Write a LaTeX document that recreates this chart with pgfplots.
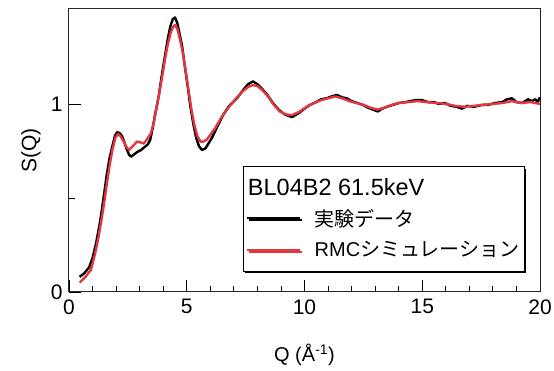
\documentclass[border=0pt]{standalone}
\usepackage{fontspec}
\setmainfont{Liberation Sans}
\newfontfamily\jp{Noto Sans CJK JP}
\usepackage{pgfplots}
\pgfplotsset{compat=1.18}
\usetikzlibrary{shadows}
\definecolor{rmcred}{RGB}{225,55,65}
\begin{document}
\begin{tikzpicture}
\useasboundingbox (-69pt,-79pt) rectangle (485pt,292pt);
\begin{axis}[
  scale only axis,
  width=471pt, height=283pt,
  xmin=0, xmax=20, ymin=0, ymax=1.505,
  xtick={0,5,10,15,20},
  minor x tick num=4,
  ytick={0,1},
  minor ytick={0.5},
  tick pos=left,
  tick align=inside,
  major tick length=12pt,
  minor tick length=6pt,
  every tick/.style={line width=0.9pt, black},
  axis line style={line width=1pt, black!85},
  /pgf/number format/assume math mode=true,
  ticklabel style={font=\fontsize{21}{23}\selectfont},
  xticklabel style={yshift=-4pt},
  yticklabel style={xshift=-3pt},
  xlabel={Q (Å\textsuperscript{-1})},
  ylabel={S(Q)},
  every axis x label/.style={at={(axis description cs:0.5,-0.223)},anchor=center,font=\fontsize{20}{22}\selectfont},
  every axis y label/.style={at={(axis description cs:-0.081,0.5)},anchor=center,rotate=90,font=\fontsize{21}{22}\selectfont},
  legend cell align=left,
  legend style={at={(0.968,0.071)}, anchor=south east, draw=black, line width=1pt,
    fill=white, font=\fontsize{20}{24}\selectfont,
    drop shadow={shadow xshift=2pt, shadow yshift=-2pt, fill=black, opacity=1},
    inner xsep=3pt, inner ysep=11pt, row sep=10pt,
    /tikz/every odd column/.append style={column sep=11pt}},
  legend image code/.code={\draw[#1] (0pt,0pt) -- (53pt,0pt);},
]
\addlegendimage{legend image code/.code={\node[overlay,anchor=west,inner sep=0pt,transform shape=false] at (0pt,0pt) {\fontsize{23.5}{26}\selectfont BL04B2 61.5keV};}}
\addlegendentry{\phantom{X}}
\addplot[black, line width=2.4pt, line join=round] coordinates {
(0.45,0.08) (0.65,0.10) (0.85,0.13) (1.0,0.18) (1.15,0.26) (1.3,0.36) (1.40,0.44)
(1.5,0.53) (1.61,0.63) (1.72,0.71) (1.83,0.77) (1.95,0.83) (2.04,0.85) (2.15,0.845)
(2.25,0.83) (2.34,0.80) (2.45,0.76) (2.55,0.73) (2.63,0.72) (2.75,0.73) (2.9,0.745)
(3.06,0.755) (3.2,0.77) (3.35,0.785) (3.45,0.81) (3.55,0.87) (3.65,0.94) (3.74,0.995)
(3.82,1.05) (3.95,1.16) (4.08,1.26) (4.2,1.35) (4.3,1.41) (4.40,1.45) (4.50,1.46)
(4.6,1.43) (4.70,1.37) (4.80,1.31) (4.92,1.20) (5.05,1.085) (5.15,0.99) (5.27,0.90)
(5.4,0.82) (5.52,0.775) (5.65,0.755) (5.8,0.765) (5.95,0.795) (6.07,0.82) (6.3,0.88)
(6.54,0.94) (6.8,0.99) (7.13,1.03) (7.4,1.075) (7.6,1.105) (7.81,1.12) (8.0,1.105)
(8.2,1.08) (8.41,1.05) (8.66,1.005) (8.9,0.97) (9.15,0.945) (9.47,0.93) (9.8,0.955)
(10.0,0.975) (10.23,0.995) (10.5,1.01) (10.7,1.025) (10.94,1.03) (11.15,1.04) (11.38,1.048)
(11.6,1.035) (11.8,1.03) (12.0,1.015) (12.25,1.005) (12.48,0.995) (12.7,0.98) (12.9,0.97)
(13.12,0.96) (13.3,0.975) (13.5,0.985) (13.76,0.995) (14.0,1.005) (14.3,1.01) (14.69,1.02)
(15.0,1.02) (15.24,1.01) (15.5,1.01) (15.7,1.0) (15.97,1.005) (16.2,0.99) (16.45,0.985)
(16.69,0.975) (16.9,0.99) (17.2,0.985) (17.54,0.995) (17.8,0.995) (18.09,1.005) (18.4,1.01)
(18.6,1.025) (18.81,1.03) (19.0,1.01) (19.24,1.005) (19.5,1.025) (19.65,1.015) (19.8,1.025)
(19.9,1.01) (20.0,1.035)
};
\addlegendentry{{\jp 実験データ}}
\addplot[rmcred, line width=2.4pt, line join=round] coordinates {
(0.45,0.05) (0.7,0.08) (0.93,0.117) (1.1,0.2) (1.25,0.29) (1.4,0.40) (1.5,0.48)
(1.6,0.57) (1.72,0.67) (1.85,0.76) (1.97,0.82) (2.08,0.84) (2.18,0.83) (2.3,0.805)
(2.42,0.775) (2.55,0.755) (2.7,0.775) (2.89,0.80) (3.05,0.795) (3.18,0.79) (3.3,0.81)
(3.48,0.845) (3.6,0.90) (3.7,0.97) (3.82,1.05) (3.95,1.14) (4.08,1.24) (4.2,1.32)
(4.32,1.38) (4.42,1.41) (4.5,1.42) (4.6,1.40) (4.7,1.35) (4.82,1.28) (4.95,1.18)
(5.08,1.07) (5.2,0.97) (5.32,0.89) (5.45,0.83) (5.58,0.80) (5.7,0.80) (5.85,0.81)
(6.0,0.835) (6.2,0.87) (6.5,0.935) (6.8,0.985) (7.1,1.03) (7.4,1.07) (7.6,1.09)
(7.8,1.10) (8.0,1.095) (8.2,1.075) (8.45,1.04) (8.7,0.995) (8.95,0.96) (9.2,0.945)
(9.47,0.94) (9.8,0.96) (10.1,0.985) (10.4,1.005) (10.7,1.02) (11.0,1.03) (11.3,1.04)
(11.6,1.03) (11.9,1.015) (12.2,1.005) (12.5,0.995) (12.8,0.98) (13.1,0.97) (13.4,0.98)
(13.7,0.995) (14.0,1.005) (14.4,1.01) (14.8,1.015) (15.2,1.01) (15.6,1.005) (16.0,1.0)
(16.4,0.99) (16.8,0.985) (17.2,0.99) (17.6,0.995) (18.0,1.0) (18.4,1.005) (18.8,1.015)
(19.2,1.005) (19.6,1.01) (20.0,1.0)
};
\addlegendentry{RMC{\jp シミュレーション}}
\end{axis}
\end{tikzpicture}
\end{document}
